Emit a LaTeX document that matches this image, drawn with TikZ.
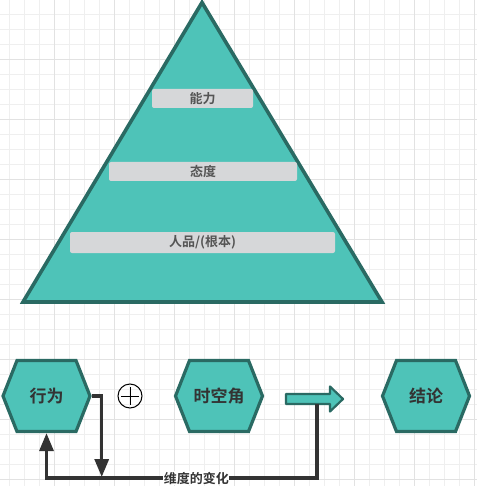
\documentclass[tikz,border=0pt]{standalone}
\usepackage{fontspec}
\setmainfont{Noto Sans CJK SC}[BoldFont={Noto Sans CJK SC Bold}]
\usetikzlibrary{shapes.symbols, arrows.meta, calc, positioning}
\definecolor{tealfill}{HTML}{4EC3B8}
\definecolor{tealedge}{HTML}{2A6A63}
\definecolor{linkgray}{HTML}{333333}
\definecolor{bargray}{HTML}{D6D7D9}
\definecolor{bartext}{HTML}{555555}
\definecolor{gridminor}{HTML}{EFEFEF}
\definecolor{gridmajor}{HTML}{E2E2E2}

\begin{document}
\begin{tikzpicture}[x=1pt, y=-1pt,
    hexnode/.style={signal, signal to=east and west, signal pointer angle=137,
        draw=tealedge, fill=tealfill, line width=3.2pt, minimum width=87pt,
        minimum height=71pt, inner sep=0pt, text=linkgray,
        font=\fontsize{17}{17}\selectfont\bfseries},
    layer/.style={fill=bargray, rounded corners=2pt, inner sep=0pt,
        text=bartext, font=\fontsize{13}{13}\selectfont\bfseries},
    link/.style={draw=linkgray, line width=3.2pt,
        -{Triangle[length=18pt, width=14pt]}},
    fatarrow/.style={draw=tealedge, fill=tealfill, line width=2.2pt, line join=round}]
    % background grid
    \useasboundingbox (0,0) rectangle (477,486);
    \fill[white] (0,0) rectangle (477,486);
    \foreach \gx in {9.5,24.5,...,477} \draw[gridminor, line width=1pt] (\gx,0) -- (\gx,486);
    \foreach \gy in {14.5,29.5,...,486} \draw[gridminor, line width=1pt] (0,\gy) -- (477,\gy);
    \foreach \gx in {54.5,114.5,...,477} \draw[gridmajor, line width=1pt] (\gx,0) -- (\gx,486);
    \foreach \gy in {59.5,119.5,...,486} \draw[gridmajor, line width=1pt] (0,\gy) -- (477,\gy);

    % pyramid
    \draw[tealedge, fill=tealfill, line width=3.6pt, line join=miter]
        (202,2.5) -- (382,302) -- (23,302) -- cycle;
    \node[layer, minimum width=101pt, minimum height=19pt] (ability) at (202.5,98.5) {能力};
    \node[layer, minimum width=188pt, minimum height=19pt] (attitude) at (203,171.5) {态度};
    \node[layer, minimum width=265pt, minimum height=21pt] (character) at (202.5,242.5) {人品/(根本)};

    % bottom row
    \node[hexnode] (behave) at (46.5,396) {行为};
    \node[draw, circle, line width=1pt, minimum size=24pt, inner sep=0pt] (plus) at (130,396) {};
    \draw[line width=1pt] ($(plus.center)+(0,-9)$) -- ($(plus.center)+(0,9)$);
    \draw[line width=1pt] ($(plus.center)+(-9,0)$) -- ($(plus.center)+(9,0)$);
    \node[hexnode] (spacetime) at (219,396) {时空角};
    \node[hexnode] (result) at (426,396) {结论};

    \coordinate (tail) at (286,398.5);
    \draw[fatarrow] ($(tail)+(0,-4.5)$) -- ++(44,0) -- ++(0,-7.5) -- ++(13,12.5)
        -- ++(0,0) -- ++(-13,12.5) -- ++(0,-7.5) -- ++(-44,0) -- cycle;
    \coordinate (drop) at ($(tail)+(31,5.5)$);

    \draw[link] (behave.east) -- ++(10,0) -- ++(0,81);
    \draw[link] (drop) -- ++(0,74) coordinate (corner)
        -- (corner -| behave.south)
        node[pos=0.446, fill=white, inner sep=0.5pt, text=linkgray,
             font=\fontsize{13}{13}\selectfont\bfseries] (dimension) {维度的变化}
        -- (behave.south);
\end{tikzpicture}
\end{document}
